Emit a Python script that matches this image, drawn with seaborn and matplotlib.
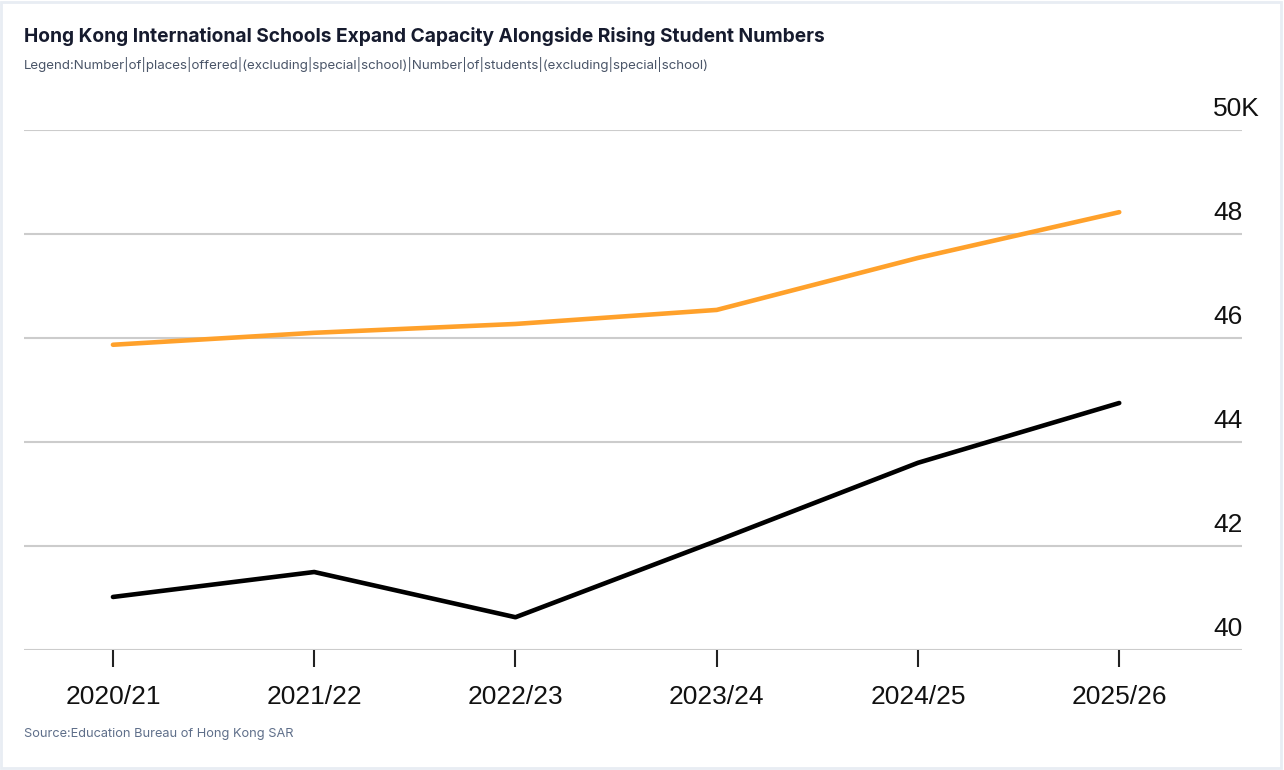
import numpy as np
import pandas as pd
import matplotlib
matplotlib.use("Agg")
from matplotlib import pyplot as plt
from matplotlib import transforms
import seaborn as sns

# 学年与两条数据（单位：千人）
years = ["2020/21", "2021/22", "2022/23", "2023/24", "2024/25", "2025/26"]
places_offered = [45.87, 46.10, 46.27, 46.54, 47.54, 48.42]
students = [41.02, 41.50, 40.63, 42.10, 43.60, 44.75]
y_ticks = [40, 42, 44, 46, 48, 50]
y_tick_labels = ["40", "42", "44", "46", "48", "50K"]

title = "Hong Kong International Schools Expand Capacity Alongside Rising Student Numbers"
legend_text = ("Legend:Number|of|places|offered|(excluding|special|school)|"
               "Number|of|students|(excluding|special|school)")
source_text = "Source:Education Bureau of Hong Kong SAR"

df = pd.DataFrame({
    "year": years * 2,
    "x": list(range(len(years))) * 2,
    "value": places_offered + students,
    "series": ["places"] * len(years) + ["students"] * len(years),
})

sns.set_theme(style="white")
plt.rcParams["font.family"] = ["Liberation Sans", "DejaVu Sans"]

W, H = 1284, 770
fig = plt.figure(figsize=(W / 100, H / 100), dpi=100)
fig.patch.set_facecolor("white")
# 外框
fig.add_artist(plt.Rectangle((0.001, 0.002), 0.997, 0.995, transform=fig.transFigure,
                             fill=False, edgecolor="#e8edf3", linewidth=2))

ax = fig.add_axes([24 / W, 1 - 650 / H, (1242 - 24) / W, (650 - 130) / H])
sns.lineplot(data=df, x="x", y="value", hue="series",
             palette={"places": "#ffa12b", "students": "#000000"},
             linewidth=3.3, legend=False, ax=ax, solid_capstyle="round")

ax.set_xlim(-0.442, 5.61)
ax.set_ylim(40, 50)
for s in ax.spines.values():
    s.set_visible(False)

# 网格线
for t in y_ticks:
    ax.axhline(t, color="#cccccc", linewidth=1.5, zorder=0)

ax.set_xticks(range(len(years)))
ax.set_xticklabels(years, fontsize=19, color="#111111")
ax.tick_params(axis="x", bottom=True, length=12, width=1.5, color="#222222",
               pad=13, direction="out")

ax.yaxis.tick_right()
ax.set_yticks(y_ticks)
ax.set_yticklabels(y_tick_labels, fontsize=19, color="#111111")
ax.tick_params(axis="y", right=False, left=False, length=0, pad=-29 * 0.72)
offset = transforms.ScaledTranslation(0, 6.5 / 72, fig.dpi_scale_trans)
for lab in ax.get_yticklabels():
    lab.set_horizontalalignment("left")
    lab.set_verticalalignment("bottom")
    lab.set_transform(lab.get_transform() + offset)

ax.set_xlabel("")
ax.set_ylabel("")

fig.text(24 / W, 1 - 36 / H, title, fontsize=13.8, fontweight="bold",
         color="#161b2e", va="center", ha="left", family=["Inter", "DejaVu Sans"])
fig.text(24 / W, 1 - 65 / H, legend_text, fontsize=9.6, color="#4a5568",
         va="center", ha="left", family=["Inter", "DejaVu Sans"])
fig.text(24 / W, 1 - 734 / H, source_text, fontsize=9.2, color="#5f6f8a",
         va="center", ha="left", family=["Inter", "DejaVu Sans"])

fig.savefig("out.png", dpi=100)
